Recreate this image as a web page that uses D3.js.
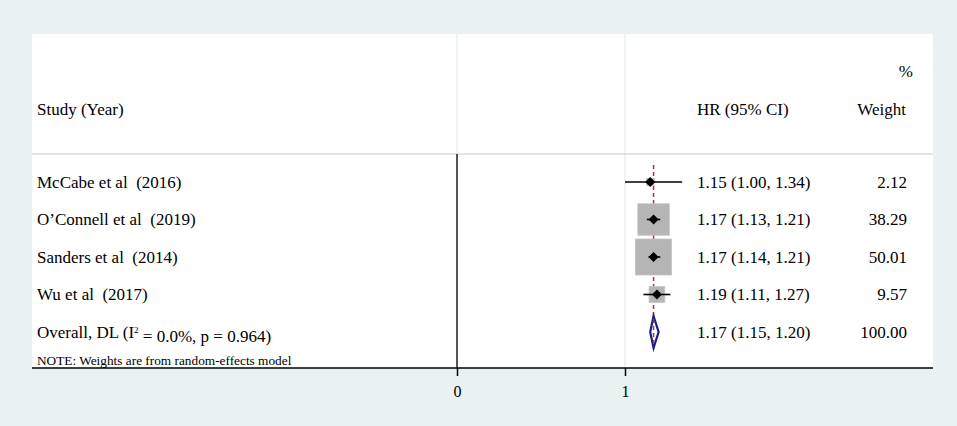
<!DOCTYPE html>
<html>
<head>
<meta charset="utf-8">
<script src="https://cdn.jsdelivr.net/npm/d3@7"></script>
<style>
  html, body { margin: 0; padding: 0; background: #e9f1f3; }
  svg { display: block; }
  text { font-family: "Liberation Serif", "Times New Roman", serif; fill: #000; white-space: pre; }
</style>
</head>
<body>
<svg id="chart" width="957" height="426"></svg>
<script>
// ---- data ----
const studies = ["McCabe et al  (2016)", "O\u2019Connell et al  (2019)", "Sanders et al  (2014)", "Wu et al  (2017)"];
const hr = [1.15, 1.17, 1.17, 1.19];
const ciLow = [1.00, 1.13, 1.14, 1.11];
const ciHigh = [1.34, 1.21, 1.21, 1.27];
const weights = [2.12, 38.29, 50.01, 9.57];
const hrLabels = ["1.15 (1.00, 1.34)", "1.17 (1.13, 1.21)", "1.17 (1.14, 1.21)", "1.19 (1.11, 1.27)"];
const weightLabels = ["2.12", "38.29", "50.01", "9.57"];
const overallLabel = "Overall, DL";
const overallStats = { i2: "0.0%", p: "0.964" };
const overallHR = [1.17];
const overallLow = [1.15];
const overallHigh = [1.20];
const overallHRLabel = "1.17 (1.15, 1.20)";
const overallWeightLabel = "100.00";
const xTicks = [0, 1];
const note = "NOTE: Weights are from random-effects model";

// ---- layout ----
const svg = d3.select("#chart");
const panel = { left: 32, right: 933, top: 34, bottom: 368 };
const headerLineY = 154;

const x = d3.scaleLinear().domain([0, 1]).range([457, 625]);
const rowKeys = studies.concat(["overall"]);
const y = d3.scalePoint().domain(rowKeys).range([182, 332]);
const boxSide = d3.scaleSqrt().domain([0, 50.01]).range([0, 36]);

// white plot panel
svg.append("rect")
  .attr("x", panel.left).attr("y", panel.top)
  .attr("width", panel.right - panel.left).attr("height", panel.bottom - panel.top)
  .attr("fill", "#ffffff");

// light vertical gridlines at ticks
svg.selectAll("line.grid").data(xTicks).join("line")
  .attr("class", "grid")
  .attr("x1", d => x(d)).attr("x2", d => x(d))
  .attr("y1", panel.top).attr("y2", panel.bottom)
  .attr("stroke", "#e3ebee").attr("stroke-width", 1.2);

// header separator
svg.append("line")
  .attr("x1", panel.left).attr("x2", panel.right)
  .attr("y1", headerLineY).attr("y2", headerLineY)
  .attr("stroke", "#c9c9c9").attr("stroke-width", 1.2);

// null line at 0
svg.append("line")
  .attr("x1", x(0)).attr("x2", x(0))
  .attr("y1", headerLineY).attr("y2", panel.bottom)
  .attr("stroke", "#000").attr("stroke-width", 1.3);

// axis
const axisG = svg.append("g").attr("transform", `translate(0,${panel.bottom})`);
axisG.append("line")
  .attr("x1", panel.left).attr("x2", panel.right)
  .attr("y1", 0).attr("y2", 0)
  .attr("stroke", "#000").attr("stroke-width", 1.5);
const axis = d3.axisBottom(x).tickValues(xTicks).tickFormat(d3.format("d")).tickSize(8).tickPadding(10);
axisG.append("g").call(axis)
  .call(g => g.select(".domain").remove())
  .call(g => g.selectAll(".tick line").attr("stroke", "#000").attr("stroke-width", 1.5))
  .call(g => g.selectAll(".tick text").attr("font-family", "Liberation Serif").attr("font-size", 16).attr("fill", "#000"));

// overall dashed line
svg.append("line")
  .attr("x1", x(overallHR[0])).attr("x2", x(overallHR[0]))
  .attr("y1", 165).attr("y2", 349)
  .attr("stroke", "#a4383c").attr("stroke-width", 1.5)
  .attr("stroke-dasharray", "4,3");

// weight boxes
const rows = studies.map((s, i) => ({ s, est: hr[i], lo: ciLow[i], hi: ciHigh[i], w: weights[i] }));
svg.selectAll("rect.box").data(rows).join("rect")
  .attr("class", "box")
  .attr("x", d => x(d.est) - boxSide(d.w) / 2)
  .attr("y", d => y(d.s) - boxSide(d.w) / 2)
  .attr("width", d => boxSide(d.w)).attr("height", d => boxSide(d.w))
  .attr("fill", "#b5b5b5").attr("stroke", "#c4c4c4").attr("stroke-width", 0.8);

// CI lines
svg.selectAll("line.ci").data(rows).join("line")
  .attr("class", "ci")
  .attr("x1", d => x(d.lo)).attr("x2", d => x(d.hi))
  .attr("y1", d => y(d.s)).attr("y2", d => y(d.s))
  .attr("stroke", "#000").attr("stroke-width", 1.6);

// point estimates (black diamonds)
svg.selectAll("path.pt").data(rows).join("path")
  .attr("class", "pt")
  .attr("transform", d => `translate(${x(d.est)},${y(d.s)})`)
  .attr("d", "M0,-5L5,0L0,5L-5,0Z")
  .attr("fill", "#000");

// overall diamond
const oy = y("overall");
svg.append("path")
  .datum({ est: overallHR[0], lo: overallLow[0], hi: overallHigh[0] })
  .attr("d", d => `M${x(d.lo)},${oy}L${x(d.est)},${oy - 16}L${x(d.hi)},${oy}L${x(d.est)},${oy + 16}Z`)
  .attr("fill", "#fff").attr("stroke", "#1c1c86").attr("stroke-width", 2.2)
  .attr("stroke-linejoin", "miter");
// dashed line passes over the diamond interior
svg.append("line")
  .attr("x1", x(overallHR[0])).attr("x2", x(overallHR[0]))
  .attr("y1", oy - 13).attr("y2", oy + 13)
  .attr("stroke", "#a4383c").attr("stroke-width", 1.5)
  .attr("stroke-dasharray", "4,3");

// ---- texts ----
const fs = 17;
const txt = (xx, yy, t, anchor, size) => svg.append("text")
  .attr("x", xx).attr("y", yy).attr("dy", "0.35em")
  .attr("text-anchor", anchor || "start")
  .attr("font-size", size || fs)
  .text(t);

txt(37, 109, "Study (Year)");
txt(697, 109, "HR (95% CI)");
txt(913, 71, "%", "end");
txt(906, 109, "Weight", "end");

svg.selectAll("text.study").data(rows).join("text")
  .attr("class", "study")
  .attr("x", 37).attr("y", d => y(d.s)).attr("dy", "0.35em")
  .attr("font-size", fs).text(d => d.s);

svg.selectAll("text.hr").data(hrLabels).join("text")
  .attr("class", "hr")
  .attr("x", 697).attr("y", (d, i) => y(studies[i])).attr("dy", "0.35em")
  .attr("font-size", fs).text(d => d);

svg.selectAll("text.wt").data(weightLabels).join("text")
  .attr("class", "wt")
  .attr("x", 907).attr("y", (d, i) => y(studies[i])).attr("dy", "0.35em")
  .attr("text-anchor", "end")
  .attr("font-size", fs).text(d => d);

// overall label with superscript
const ot = svg.append("text").attr("x", 37).attr("y", oy).attr("dy", "0.35em").attr("font-size", fs);
ot.append("tspan").text(overallLabel + " (I");
ot.append("tspan").attr("dy", "-0.55em").attr("font-size", 9).text("2");
ot.append("tspan").attr("dy", "0.55em").text(` = ${overallStats.i2}, p = ${overallStats.p})`);

txt(697, oy, overallHRLabel);
txt(907, oy, overallWeightLabel, "end");

txt(37, 360, note, "start", 13.3);
</script>
</body>
</html>
